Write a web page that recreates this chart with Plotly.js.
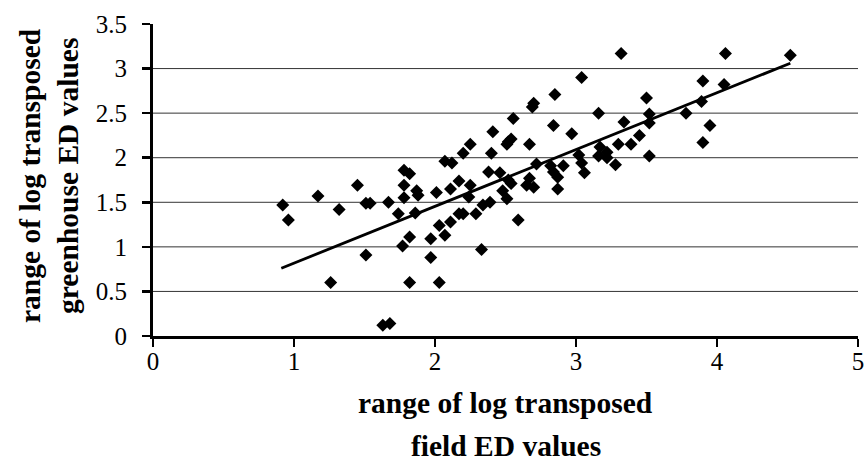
<!DOCTYPE html>
<html>
<head>
<meta charset="utf-8">
<script src="https://cdn.plot.ly/plotly-3.0.1.min.js"></script>
<style>html,body{margin:0;padding:0;background:#fff;}#chart{width:866px;height:475px;}</style>
</head>
<body>
<div id="chart"></div>
<script>
// field ED range (x) and greenhouse ED range (y)
const fieldED = [0.92,0.96,1.17,1.26,1.32,1.45,1.51,1.54,1.51,1.67,1.63,1.68,1.74,1.78,1.82,1.78,1.78,1.87,1.86,1.82,1.77,1.82,1.88,2.01,1.97,1.97,2.03,2.03,2.07,2.11,2.11,2.07,2.12,2.17,2.17,2.20,2.20,2.25,2.25,2.24,2.29,2.33,2.34,2.39,2.38,2.41,2.40,2.46,2.48,2.51,2.52,2.52,2.51,2.54,2.555,2.54,2.59,2.67,2.67,2.65,2.70,2.70,2.69,2.72,2.82,2.85,2.84,2.84,2.87,2.87,2.91,2.97,3.04,3.02,3.04,3.06,3.16,3.17,3.22,3.16,3.22,3.28,3.30,3.32,3.34,3.39,3.45,3.50,3.52,3.52,3.52,3.78,3.89,3.90,3.90,3.95,4.05,4.06,4.52];
const greenhouseED = [1.47,1.30,1.57,0.60,1.42,1.69,1.49,1.49,0.91,1.50,0.12,0.14,1.37,1.86,1.82,1.69,1.55,1.63,1.38,1.11,1.01,0.60,1.58,1.61,1.09,0.88,0.60,1.24,1.13,1.28,1.65,1.96,1.94,1.74,1.37,1.37,2.05,2.15,1.69,1.56,1.37,0.97,1.47,1.50,1.84,2.29,2.05,1.83,1.63,1.54,1.75,2.18,2.15,2.21,2.44,1.71,1.30,2.15,1.77,1.69,1.67,2.61,2.57,1.93,1.91,2.71,2.36,1.84,1.78,1.65,1.91,2.27,2.90,2.03,1.94,1.83,2.50,2.12,2.06,2.02,2.00,1.92,2.15,3.17,2.40,2.15,2.25,2.67,2.49,2.39,2.02,2.50,2.63,2.86,2.17,2.36,2.82,3.17,3.15];
// linear trendline endpoints
const trendX = [0.91, 4.52];
const trendY = [0.76, 3.06];
const xTicks = [0,1,2,3,4,5];
const yTicks = [0,0.5,1,1.5,2,2.5,3,3.5];
const xTitle = ["range of log transposed", "field ED values"];
const yTitle = ["range of log transposed", "greenhouse ED values"];

const font = "Liberation Serif, Times New Roman, serif";
const titleFont = {family: font, size: 29.5, color: "#000", weight: "bold"};
const traces = [
  {x: fieldED, y: greenhouseED, type: "scatter", mode: "markers",
   marker: {symbol: "diamond", size: 10, color: "#000"}, hoverinfo: "x+y"},
  {x: trendX, y: trendY, type: "scatter", mode: "lines",
   line: {color: "#000", width: 2.8}, hoverinfo: "skip"}
];
const layout = {
  width: 866, height: 475,
  margin: {l: 153, r: 8, t: 24, b: 139},
  paper_bgcolor: "#fff", plot_bgcolor: "#fff",
  showlegend: false,
  font: {family: font, size: 25, color: "#000"},
  xaxis: {range: [0,5], tickvals: xTicks, ticktext: xTicks.map(String),
    showgrid: false, zeroline: false, showline: true, linecolor: "#000", linewidth: 3,
    ticks: "outside", ticklen: 8, tickwidth: 2.5, tickcolor: "#000",
    tickfont: {family: font, size: 25}, ticklabelstandoff: -7, fixedrange: true},
  yaxis: {range: [0,3.5], tickvals: yTicks, ticktext: yTicks.map(String),
    showgrid: false, zeroline: false,
    showline: true, linecolor: "#000", linewidth: 3,
    ticks: "outside", ticklen: 8, tickwidth: 2.5, tickcolor: "#000",
    tickfont: {family: font, size: 25}, ticklabelstandoff: 10, fixedrange: true},
  shapes: yTicks.filter(v => v > 0 && v < 3.5).map(v => ({
    type: "line", xref: "paper", yref: "y", x0: 0, x1: 1, y0: v, y1: v,
    line: {color: "#333", width: 1}, layer: "below"})),
  annotations: [
    {text: xTitle[0], xref: "paper", yref: "paper", x: 0.5, y: 0, yshift: -67,
     showarrow: false, font: titleFont, xanchor: "center", yanchor: "middle"},
    {text: xTitle[1], xref: "paper", yref: "paper", x: 0.5, y: 0, yshift: -110,
     showarrow: false, font: titleFont, xanchor: "center", yanchor: "middle"},
    {text: yTitle[0], xref: "paper", yref: "paper", x: 0, xshift: -123, y: 0.5, yshift: 4, textangle: -90,
     showarrow: false, font: titleFont, xanchor: "center", yanchor: "middle"},
    {text: yTitle[1], xref: "paper", yref: "paper", x: 0, xshift: -85, y: 0.5, yshift: 4, textangle: -90,
     showarrow: false, font: titleFont, xanchor: "center", yanchor: "middle"}
  ]
};
Plotly.newPlot("chart", traces, layout, {displayModeBar: false, staticPlot: true});
</script>
</body>
</html>
